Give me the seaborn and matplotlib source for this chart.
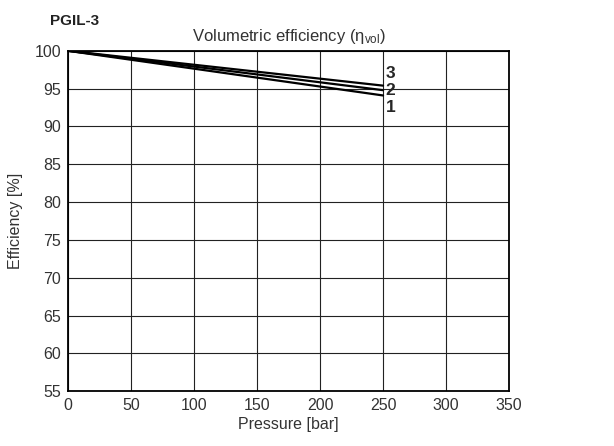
import matplotlib
matplotlib.use("Agg")
import matplotlib.pyplot as plt
import seaborn as sns
import pandas as pd

# curves
pressure = [0, 250]
eff_1 = [100, 94.1]
eff_2 = [100, 94.8]
eff_3 = [100, 95.4]
curve_names = ["1", "2", "3"]

x_ticks = [0, 50, 100, 150, 200, 250, 300, 350]
y_ticks = [55, 60, 65, 70, 75, 80, 85, 90, 95, 100]

sns.set_style("white")
plt.rcParams['font.family'] = ['Liberation Sans', 'DejaVu Sans']

df = pd.DataFrame({
    "Pressure": pressure * 3,
    "Efficiency": eff_1 + eff_2 + eff_3,
    "curve": [c for c in curve_names for _ in pressure],
})

fig = plt.figure(figsize=(6.14, 4.46), dpi=100)
ax = fig.add_axes([0.111, 0.123, 0.718, 0.763])

sns.lineplot(data=df, x="Pressure", y="Efficiency", units="curve", estimator=None,
             color="black", linewidth=1.6, ax=ax, legend=False)

ax.set_xlim(0, 350)
ax.set_ylim(55, 100)
ax.set_xticks(x_ticks)
ax.set_yticks(y_ticks)
ax.grid(True, color="#222222", linewidth=0.8)
for s in ax.spines.values():
    s.set_color("black")
    s.set_linewidth(1.3)
ax.tick_params(axis="both", labelsize=11.5, colors="#333333", length=0, pad=5)

ax.set_xlabel("Pressure [bar]", fontsize=11.5, color="#333333", labelpad=3)
ax.set_ylabel("Efficiency [%]", fontsize=11.5, color="#333333", labelpad=8)
ax.set_title(r"Volumetric efficiency ($\mathregular{\eta_{vol}}$)", fontsize=12,
             color="#333333", pad=7)
fig.text(0.081, 0.945, "PGIL-3", fontsize=11, fontweight="bold", color="#222222")

# curve labels at the line ends
for name, yv in zip(curve_names, [92.5, 94.7, 97.0]):
    ax.text(252, yv, name, fontsize=12.5, fontweight="bold", va="center", ha="left")

fig.savefig("out.png", dpi=100)
